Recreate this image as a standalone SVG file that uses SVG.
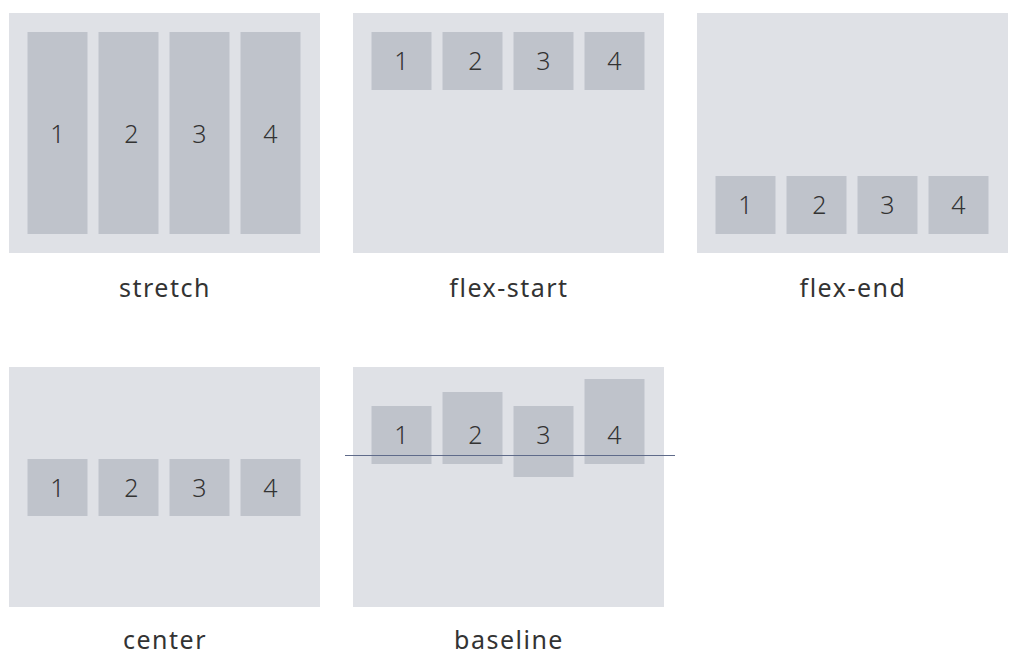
<svg xmlns="http://www.w3.org/2000/svg" width="1024" height="664" viewBox="0 0 1024 664">
<style>
.panel{fill:#dfe1e6}
.item{fill:#bfc3cb}
.num{font-family:"Noto Sans","Liberation Sans",sans-serif;font-weight:300;font-size:25px;fill:#333;text-anchor:middle}
.lbl{font-family:"Noto Sans","Liberation Sans",sans-serif;font-weight:400;font-size:25px;fill:#333;text-anchor:middle;letter-spacing:1.5px}
</style>
<rect width="1024" height="664" fill="#ffffff"/>
<g id="stretch">
<rect class="panel" x="9" y="13" width="311" height="240"/>
<rect class="item" x="27.5" y="32" width="60" height="202"/>
<rect class="item" x="98.5" y="32" width="60" height="202"/>
<rect class="item" x="169.5" y="32" width="60" height="202"/>
<rect class="item" x="240.5" y="32" width="60" height="202"/>
<text class="num" x="57.5" y="143">1</text>
<text class="num" x="131.5" y="143">2</text>
<text class="num" x="199.5" y="143">3</text>
<text class="num" x="270.5" y="143">4</text>
<text class="lbl" x="165" y="297">stretch</text>
</g>
<g id="flex-start">
<rect class="panel" x="353" y="13" width="311" height="240"/>
<rect class="item" x="371.5" y="32" width="60" height="58"/>
<rect class="item" x="442.5" y="32" width="60" height="58"/>
<rect class="item" x="513.5" y="32" width="60" height="58"/>
<rect class="item" x="584.5" y="32" width="60" height="58"/>
<text class="num" x="401.5" y="70">1</text>
<text class="num" x="475.5" y="70">2</text>
<text class="num" x="543.5" y="70">3</text>
<text class="num" x="614.5" y="70">4</text>
<text class="lbl" x="509" y="297">flex-start</text>
</g>
<g id="flex-end">
<rect class="panel" x="697" y="13" width="311" height="240"/>
<rect class="item" x="715.5" y="176" width="60" height="58"/>
<rect class="item" x="786.5" y="176" width="60" height="58"/>
<rect class="item" x="857.5" y="176" width="60" height="58"/>
<rect class="item" x="928.5" y="176" width="60" height="58"/>
<text class="num" x="745.5" y="214">1</text>
<text class="num" x="819.5" y="214">2</text>
<text class="num" x="887.5" y="214">3</text>
<text class="num" x="958.5" y="214">4</text>
<text class="lbl" x="853" y="297">flex-end</text>
</g>
<g id="center">
<rect class="panel" x="9" y="367" width="311" height="240"/>
<rect class="item" x="27.5" y="459" width="60" height="57"/>
<rect class="item" x="98.5" y="459" width="60" height="57"/>
<rect class="item" x="169.5" y="459" width="60" height="57"/>
<rect class="item" x="240.5" y="459" width="60" height="57"/>
<text class="num" x="57.5" y="497">1</text>
<text class="num" x="131.5" y="497">2</text>
<text class="num" x="199.5" y="497">3</text>
<text class="num" x="270.5" y="497">4</text>
<text class="lbl" x="165" y="649">center</text>
</g>
<g id="baseline">
<rect class="panel" x="353" y="367" width="311" height="240"/>
<rect class="item" x="371.5" y="406" width="60" height="58"/>
<rect class="item" x="442.5" y="392" width="60" height="72"/>
<rect class="item" x="513.5" y="406" width="60" height="71"/>
<rect class="item" x="584.5" y="379" width="60" height="85"/>
<text class="num" x="401.5" y="444">1</text>
<text class="num" x="475.5" y="444">2</text>
<text class="num" x="543.5" y="444">3</text>
<text class="num" x="614.5" y="444">4</text>
<text class="lbl" x="509" y="649">baseline</text>
</g>
<g id="connectors">
<line x1="345" y1="455.5" x2="675" y2="455.5" stroke="#5f6b8a" stroke-width="1"/>
</g>
</svg>
